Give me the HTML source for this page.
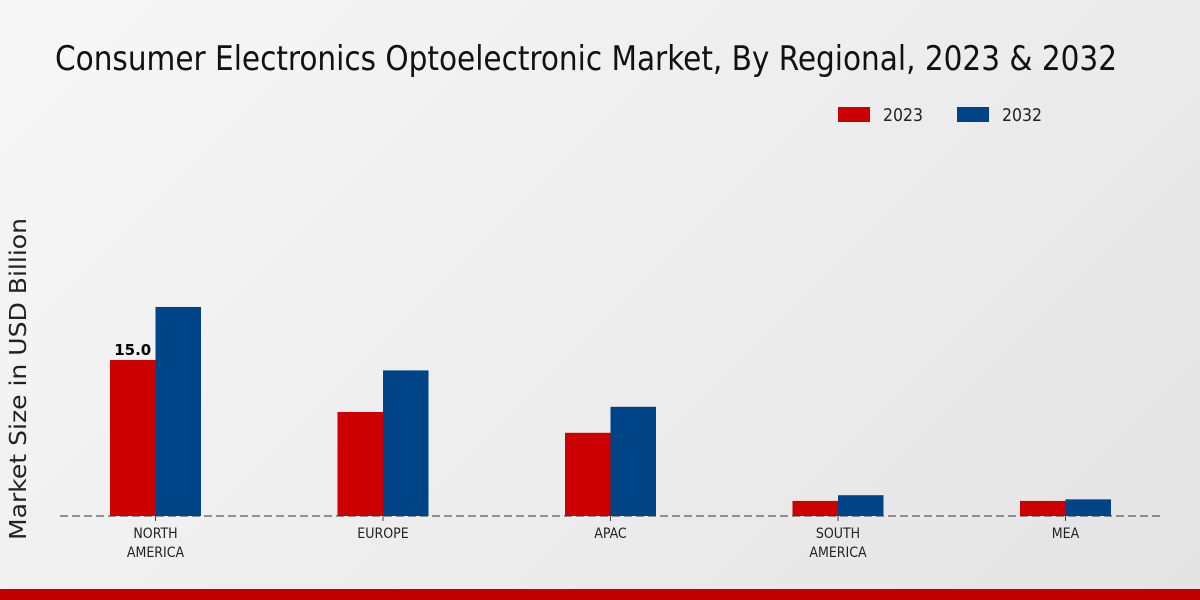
<!DOCTYPE html>
<html><head><meta charset="utf-8"><style>
html,body{margin:0;padding:0;width:1200px;height:600px;overflow:hidden}
body{background:linear-gradient(135deg,#f7f7f7 0%,#e4e4e4 100%);font-family:"DejaVu Sans","Liberation Sans",sans-serif}
text{font-family:"DejaVu Sans","Liberation Sans",sans-serif}
</style></head><body>
<svg id="chart" width="1200" height="600" xmlns="http://www.w3.org/2000/svg">
<text x="55" y="70" font-size="34" font-stretch="condensed" textLength="1062" lengthAdjust="spacingAndGlyphs" fill="#111">Consumer Electronics Optoelectronic Market, By Regional, 2023 &amp; 2032</text>
<g>
<rect x="838" y="107" width="32" height="15" fill="#cc0000"/>
<text x="883" y="121" font-size="18" textLength="40" lengthAdjust="spacingAndGlyphs" fill="#222">2023</text>
<rect x="957" y="107" width="32" height="15" fill="#004488"/>
<text x="1002" y="121" font-size="18" textLength="40" lengthAdjust="spacingAndGlyphs" fill="#222">2032</text>
</g>
<text transform="translate(26,379) rotate(-90)" text-anchor="middle" font-size="23" textLength="322" lengthAdjust="spacingAndGlyphs" fill="#222">Market Size in USD Billion</text>
<g id="bars"></g>
<line x1="60" y1="516" x2="1160" y2="516" stroke="#333" stroke-width="1" stroke-dasharray="8,4"/>
<g id="xlabels"></g>
<rect x="0" y="589" width="1200" height="11" fill="#c00000"/>
</svg>
<script>
const categories=[["NORTH","AMERICA"],["EUROPE"],["APAC"],["SOUTH","AMERICA"],["MEA"]];
const values2023=[15.0,10.0,8.0,1.45,1.45];
const values2032=[20.1,14.0,10.5,2.0,1.6];
const labels2023=["15.0",null,null,null,null];
const NS="http://www.w3.org/2000/svg";
const base=516, scale=10.4, x0=155.5, step=227.5, bw=45.5;
const yPos=v=>base-v*scale, xPos=i=>x0+i*step;
const bars=document.getElementById('bars'), xl=document.getElementById('xlabels');
categories.forEach((c,i)=>{
  const cx=xPos(i);
  [[values2023,'#cc0000',cx-bw,'2023'],[values2032,'#004488',cx,'2032']].forEach(([arr,col,x,s])=>{
    const r=document.createElementNS(NS,'rect');
    
    
    r.setAttribute('x',x);r.setAttribute('width',bw);
    r.setAttribute('y',yPos(arr[i]));r.setAttribute('height',arr[i]*scale);
    r.setAttribute('fill',col);bars.appendChild(r);
  });
  if(labels2023[i]){
    const t=document.createElementNS(NS,'text');
    
    
    t.setAttribute('x',cx-bw/2);t.setAttribute('y',yPos(values2023[i])-5);
    t.setAttribute('text-anchor','middle');t.setAttribute('font-size','15');t.setAttribute('font-weight','bold');
    t.textContent=labels2023[i];bars.appendChild(t);
  }
  const tk=document.createElementNS(NS,'line');
  
  
  tk.setAttribute('x1',cx);tk.setAttribute('x2',cx);tk.setAttribute('y1',516);tk.setAttribute('y2',521);
  tk.setAttribute('stroke','#444');xl.appendChild(tk);
  c.forEach((line,j)=>{
    const t=document.createElementNS(NS,'text');
    
    
    t.setAttribute('x',cx);t.setAttribute('y',538+j*19);
    t.setAttribute('text-anchor','middle');t.setAttribute('font-size','14');t.setAttribute('font-stretch','condensed');t.setAttribute('fill','#222');
    t.textContent=line;xl.appendChild(t);
  });
});
</script>
</body></html>
